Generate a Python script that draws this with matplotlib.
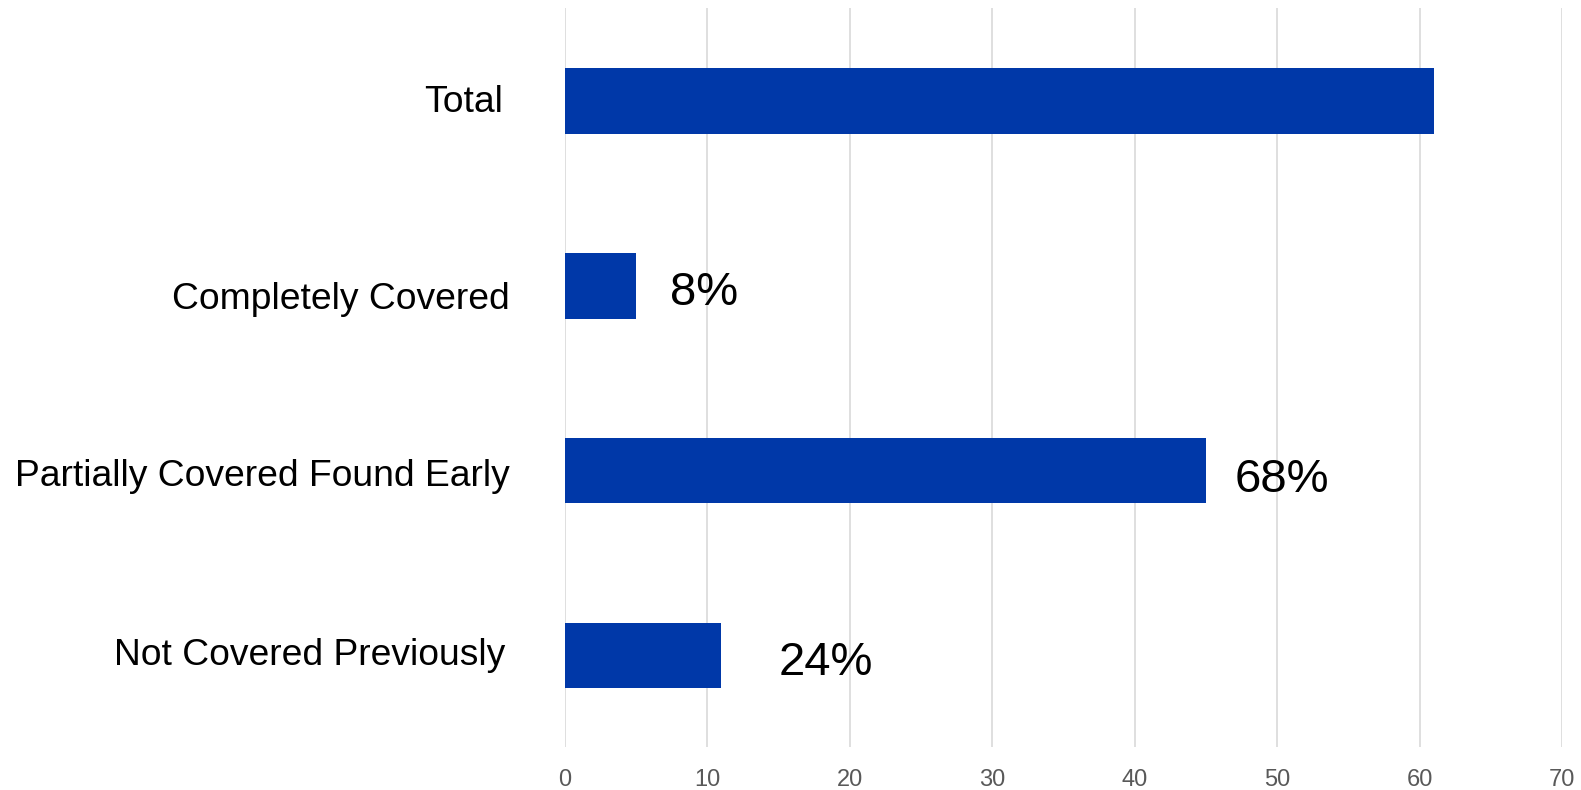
import matplotlib.pyplot as plt

plt.rcParams['font.family'] = ['Liberation Sans', 'DejaVu Sans']

# bottom to top
categories = ["Not Covered Previously", "Partially Covered Found Early",
              "Completely Covered", "Total"]
values = [11, 45, 5, 61]
pct_labels = ["24%", "68%", "8%", None]
pct_x = [15.04, 47.05, 7.39, None]

# small manual nudges seen in the original layout
label_right = [-0.0599, -0.0549, -0.0549, -0.0619]
label_dy = [0.049, 0.085, 0.124, 0.057]
pct_dy = [0.103, 0.114, 0.103, None]

fig = plt.figure(figsize=(15.81, 7.90), dpi=100)
ax = fig.add_axes([0.35718, 0.05443, 0.63080, 0.93544])

ys = range(len(categories))
ax.barh(ys, values, height=0.354, color="#0038A8", zorder=2)

for y, name, xr, dy in zip(ys, categories, label_right, label_dy):
    ax.text(xr, y - dy, name, transform=ax.get_yaxis_transform(), ha="right",
            va="baseline", fontsize=26.8, color="black")

for y, txt, xp, dy in zip(ys, pct_labels, pct_x, pct_dy):
    if txt:
        ax.text(xp, y - dy, txt, ha="left", va="baseline", fontsize=34,
                color="black", zorder=3)

ax.set_xlim(0, 70)
ax.set_ylim(-0.495, 3.503)
ax.set_xticks(range(0, 71, 10))
ax.set_yticks([])
ax.grid(axis="x", color="#D9D9D9", linewidth=1.2, zorder=0)
ax.tick_params(axis="x", length=0, pad=15.6, labelsize=17, labelcolor="#595959")
for s in ax.spines.values():
    s.set_visible(False)

fig.savefig("out.png", dpi=100)
